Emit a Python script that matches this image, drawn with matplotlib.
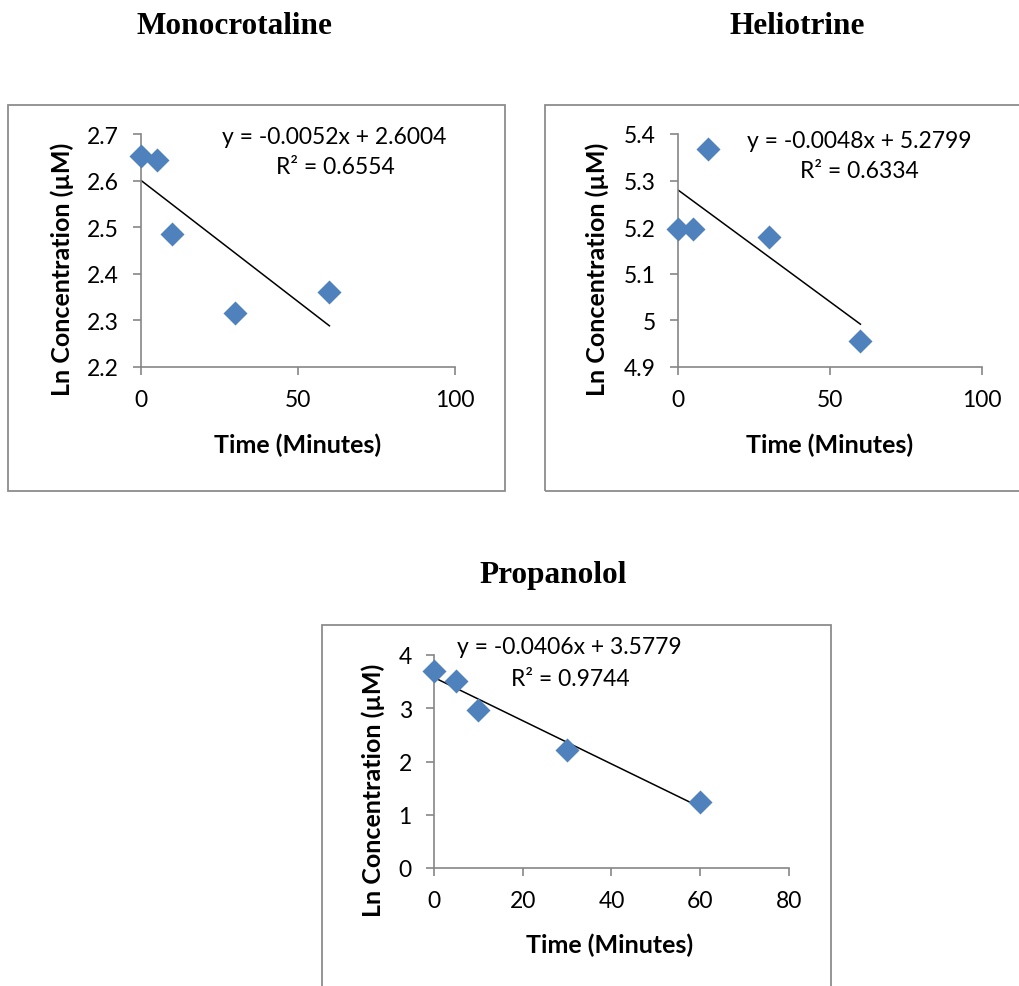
import numpy as np
import matplotlib.pyplot as plt
from matplotlib.patches import Rectangle

# dados (tempo em minutos, ln da concentracao)
tempo = [0, 5, 10, 30, 60]
mono = [2.652, 2.645, 2.485, 2.315, 2.360]
helio = [5.197, 5.197, 5.368, 5.178, 4.955]
prop = [3.70, 3.52, 2.96, 2.22, 1.24]

# regressoes mostradas no grafico (inclinacao, intercepto, r2)
reg_mono = (-0.0052, 2.6004, 0.6554)
reg_helio = (-0.0048, 5.2799, 0.6334)
reg_prop = (-0.0406, 3.5779, 0.9744)

W, H = 1020, 987
fig = plt.figure(figsize=(W / 100, H / 100), dpi=100)

def fx(x):
    return x / W

def fy(y):
    return 1 - y / H

AZUL = "#4F81BD"
CINZA = "#868686"
fonte = "Lato"
TAM = 16.5

def caixa(x0, y0, x1, y1):
    fig.patches.append(Rectangle((fx(x0), fy(y1)), fx(x1 - x0), (y1 - y0) / H,
                                 transform=fig.transFigure, fill=False,
                                 edgecolor="#8c8c8c", lw=1.3))

def grafico(pos, y, reg, xlim, xticks, ylim, yticks, ytl, eq_xy, r2_xy, xl_xy, yl_xy):
    ax = fig.add_axes(pos)
    ax.scatter(tempo, y, marker="D", s=150, color=AZUL, zorder=3, linewidths=0,
               clip_on=False)
    a, b, r2 = reg
    xx = np.array([0, 60])
    ax.plot(xx, a * xx + b, color="black", lw=1.1, zorder=2)
    ax.set_xlim(*xlim)
    ax.set_ylim(*ylim)
    ax.set_xticks(xticks)
    ax.set_yticks(yticks)
    ax.set_yticklabels(ytl)
    for s in ["top", "right"]:
        ax.spines[s].set_visible(False)
    for s in ["left", "bottom"]:
        ax.spines[s].set_color(CINZA)
        ax.spines[s].set_linewidth(1.2)
    ax.tick_params(axis="both", direction="out", length=6, width=1.2, color=CINZA,
                   labelsize=TAM, labelcolor="black")
    ax.tick_params(axis="y", pad=10)
    ax.tick_params(axis="x", pad=10)
    for lab in ax.get_xticklabels() + ax.get_yticklabels():
        lab.set_family(fonte)
    ax.patch.set_alpha(0)
    sinal = "+" if b >= 0 else "-"
    fig.text(fx(eq_xy[0]), fy(eq_xy[1]), f"y = {a:.4f}x {sinal} {b:.4f}",
             ha="center", va="center", fontsize=TAM, family=fonte)
    fig.text(fx(r2_xy[0]), fy(r2_xy[1]), f"R² = {r2:.4f}",
             ha="center", va="center", fontsize=TAM, family=fonte)
    fig.text(fx(xl_xy[0]), fy(xl_xy[1]), "Time (Minutes)", ha="center", va="center",
             fontsize=18, fontweight="bold", family=fonte)
    fig.text(fx(yl_xy[0]), fy(yl_xy[1]), "Ln Concentration (µM)", ha="center", va="center",
             rotation=90, fontsize=18, fontweight="bold", family=fonte)
    return ax

def titulo(x, y, s):
    fig.text(fx(x), fy(y), s, ha="center", va="center", fontsize=22.5,
             fontweight="bold", family="Liberation Serif")

# Monocrotaline
caixa(8, 106, 505, 492)
titulo(234, 26, "Monocrotaline")
grafico([fx(141), fy(368), 314 / W, 233 / H], mono, reg_mono,
        (0, 100), [0, 50, 100], (2.2, 2.7),
        [2.2, 2.3, 2.4, 2.5, 2.6, 2.7], ["2.2", "2.3", "2.4", "2.5", "2.6", "2.7"],
        (334, 137), (335, 168), (298, 445), (62, 269))

# Heliotrine
caixa(545, 106, 1030, 492)
titulo(797, 26, "Heliotrine")
grafico([fx(678), fy(368), 304 / W, 233 / H], helio, reg_helio,
        (0, 100), [0, 50, 100], (4.9, 5.4),
        [4.9, 5.0, 5.1, 5.2, 5.3, 5.4], ["4.9", "5", "5.1", "5.2", "5.3", "5.4"],
        (859, 142), (859, 172), (830, 445), (597, 269))

# Propanolol
caixa(322, 626, 831, 1000)
titulo(553, 576, "Propanolol")
grafico([fx(434), fy(869), 355 / W, 213 / H], prop, reg_prop,
        (0, 80), [0, 20, 40, 60, 80], (0, 4),
        [0, 1, 2, 3, 4], ["0", "1", "2", "3", "4"],
        (569, 648), (570, 680), (610, 945), (373, 790))

fig.savefig("out.png", dpi=100)
